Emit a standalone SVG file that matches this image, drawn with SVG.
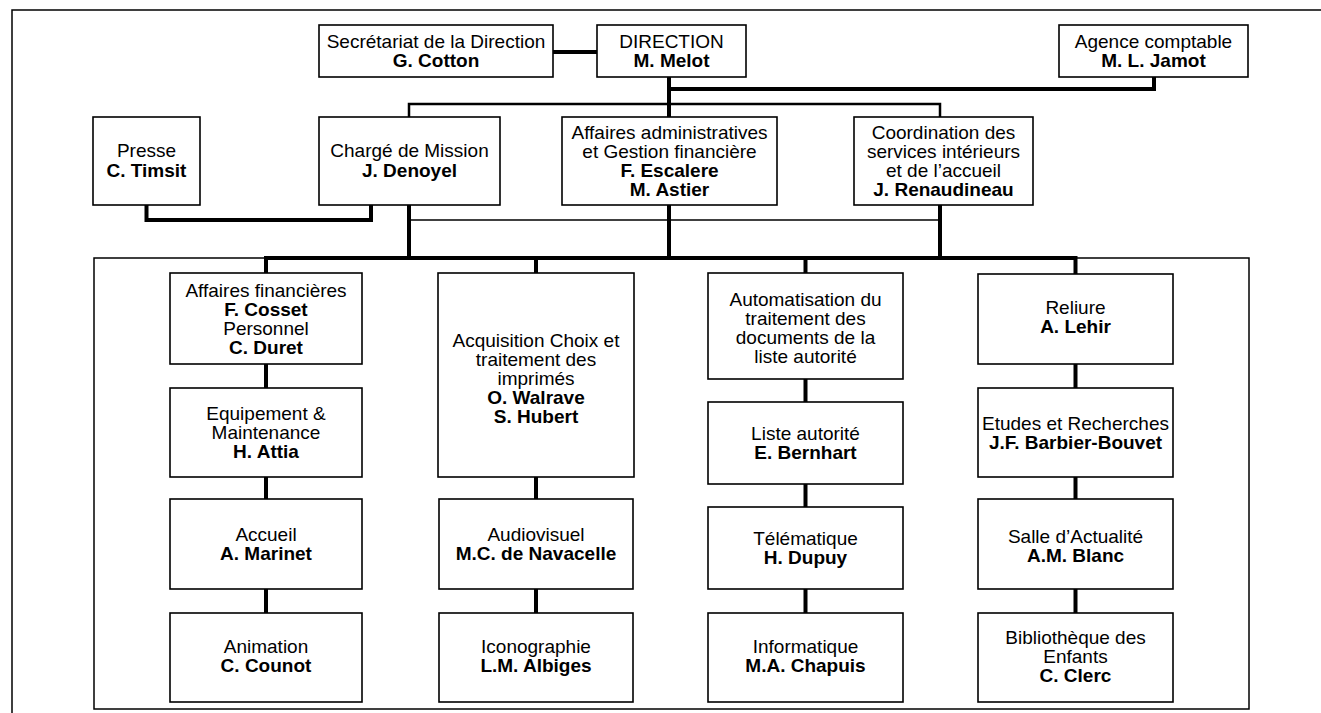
<svg xmlns="http://www.w3.org/2000/svg" width="1321" height="713" viewBox="0 0 1321 713">
<style>
.bg{fill:#fff}
.box{fill:#fff;stroke:#000;stroke-width:1.6}
.t{font-family:"Liberation Sans",Arial,Helvetica,sans-serif;font-size:19px;text-anchor:middle;fill:#000}
.b{font-weight:bold}
.thick{stroke:#000;stroke-width:4;fill:none}
.med{stroke:#000;stroke-width:2.5;fill:none}
.thin{stroke:#000;stroke-width:1.5;fill:none}
</style>
<rect class="bg" x="0" y="0" width="1321" height="713"/>
<g id="frame">
<path class="thin" d="M12,713 V10 H1321"/>
<rect class="thin" x="94" y="258" width="1155" height="451" fill="none"/>
</g>
<g id="connectors">
<path class="thick" d="M553,52 H597"/>
<path class="thick" d="M669,76 V117"/>
<path class="thick" d="M669,89 H1154 V77"/>
<path class="med" d="M409,117 V104 H940 V117"/>
<path class="thick" d="M146.5,205 V220 H371 V205"/>
<path class="thick" d="M409,205 V258"/>
<path class="thick" d="M669,205 V258"/>
<path class="thick" d="M940,205 V258"/>
<path class="thin" d="M409,220 H940"/>
<path class="thick" d="M266,273 V258 H1075.5 V274"/>
<path class="thick" d="M536,258 V273"/>
<path class="thick" d="M805.5,258 V273"/>
<path class="thick" d="M266,364 V388 M266,477 V499 M266,589 V613"/>
<path class="thick" d="M536,477 V499 M536,589 V613"/>
<path class="thick" d="M805.5,379 V402 M805.5,484 V507 M805.5,589 V613"/>
<path class="thick" d="M1075.5,364 V388 M1075.5,477 V499 M1075.5,589 V613"/>
</g>
<g id="secretariat"><rect class="box" x="319" y="25" width="234" height="52"/>
<text class="t" x="436" y="48">Secrétariat de la Direction</text><text class="t b" x="436" y="67">G. Cotton</text></g>
<g id="direction"><rect class="box" x="597" y="25" width="149" height="52"/>
<text class="t" x="671.5" y="48">DIRECTION</text><text class="t b" x="671.5" y="67">M. Melot</text></g>
<g id="agence"><rect class="box" x="1059" y="25" width="189" height="52"/>
<text class="t" x="1153.5" y="48">Agence comptable</text><text class="t b" x="1153.5" y="67">M. L. Jamot</text></g>
<g id="presse"><rect class="box" x="93" y="117" width="107" height="88"/>
<text class="t" x="146.5" y="157">Presse</text><text class="t b" x="146.5" y="177">C. Timsit</text></g>
<g id="charge"><rect class="box" x="319" y="117" width="181" height="88"/>
<text class="t" x="409.5" y="157">Chargé de Mission</text><text class="t b" x="409.5" y="177">J. Denoyel</text></g>
<g id="affaires-admin"><rect class="box" x="562" y="117" width="215" height="88"/>
<text class="t" x="669.5" y="139">Affaires administratives</text><text class="t" x="669.5" y="158">et Gestion financière</text><text class="t b" x="669.5" y="177">F. Escalere</text><text class="t b" x="669.5" y="196">M. Astier</text></g>
<g id="coordination"><rect class="box" x="854" y="117" width="179" height="88"/>
<text class="t" x="943.5" y="139">Coordination des</text><text class="t" x="943.5" y="158">services intérieurs</text><text class="t" x="943.5" y="177">et de l’accueil</text><text class="t b" x="943.5" y="196">J. Renaudineau</text></g>
<g id="aff-fin"><rect class="box" x="170" y="273" width="192" height="91"/>
<text class="t" x="266" y="296.5">Affaires financières</text><text class="t b" x="266" y="315.5">F. Cosset</text><text class="t" x="266" y="334.5">Personnel</text><text class="t b" x="266" y="353.5">C. Duret</text></g>
<g id="equipement"><rect class="box" x="170" y="388" width="192" height="89"/>
<text class="t" x="266" y="420">Equipement &amp;</text><text class="t" x="266" y="439">Maintenance</text><text class="t b" x="266" y="458">H. Attia</text></g>
<g id="accueil"><rect class="box" x="170" y="499" width="192" height="90"/>
<text class="t" x="266" y="541">Accueil</text><text class="t b" x="266" y="560">A. Marinet</text></g>
<g id="animation"><rect class="box" x="170" y="613" width="192" height="89"/>
<text class="t" x="266" y="653">Animation</text><text class="t b" x="266" y="672">C. Counot</text></g>
<g id="acquisition"><rect class="box" x="438" y="273" width="196" height="204"/>
<text class="t" x="536" y="347">Acquisition Choix et</text><text class="t" x="536" y="366">traitement des</text><text class="t" x="536" y="385">imprimés</text><text class="t b" x="536" y="404">O. Walrave</text><text class="t b" x="536" y="423">S. Hubert</text></g>
<g id="audiovisuel"><rect class="box" x="439" y="499" width="194" height="90"/>
<text class="t" x="536" y="541">Audiovisuel</text><text class="t b" x="536" y="560">M.C. de Navacelle</text></g>
<g id="iconographie"><rect class="box" x="439" y="613" width="194" height="89"/>
<text class="t" x="536" y="653">Iconographie</text><text class="t b" x="536" y="672">L.M. Albiges</text></g>
<g id="automatisation"><rect class="box" x="708" y="273" width="195" height="106"/>
<text class="t" x="805.5" y="306">Automatisation du</text><text class="t" x="805.5" y="325">traitement des</text><text class="t" x="805.5" y="344">documents de la</text><text class="t" x="805.5" y="363">liste autorité</text></g>
<g id="liste"><rect class="box" x="708" y="402" width="195" height="82"/>
<text class="t" x="805.5" y="440">Liste autorité</text><text class="t b" x="805.5" y="459">E. Bernhart</text></g>
<g id="telematique"><rect class="box" x="708" y="507" width="195" height="82"/>
<text class="t" x="805.5" y="545">Télématique</text><text class="t b" x="805.5" y="564">H. Dupuy</text></g>
<g id="informatique"><rect class="box" x="708" y="613" width="195" height="89"/>
<text class="t" x="805.5" y="653">Informatique</text><text class="t b" x="805.5" y="672">M.A. Chapuis</text></g>
<g id="reliure"><rect class="box" x="978" y="274" width="195" height="90"/>
<text class="t" x="1075.5" y="314">Reliure</text><text class="t b" x="1075.5" y="333">A. Lehir</text></g>
<g id="etudes"><rect class="box" x="978" y="388" width="195" height="89"/>
<text class="t" x="1075.5" y="429.5">Etudes et Recherches</text><text class="t b" x="1075.5" y="448.5">J.F. Barbier-Bouvet</text></g>
<g id="salle"><rect class="box" x="978" y="499" width="195" height="90"/>
<text class="t" x="1075.5" y="543">Salle d’Actualité</text><text class="t b" x="1075.5" y="562">A.M. Blanc</text></g>
<g id="bibliotheque"><rect class="box" x="978" y="613" width="195" height="89"/>
<text class="t" x="1075.5" y="643.5">Bibliothèque des</text><text class="t" x="1075.5" y="662.5">Enfants</text><text class="t b" x="1075.5" y="681.5">C. Clerc</text></g>
</svg>
